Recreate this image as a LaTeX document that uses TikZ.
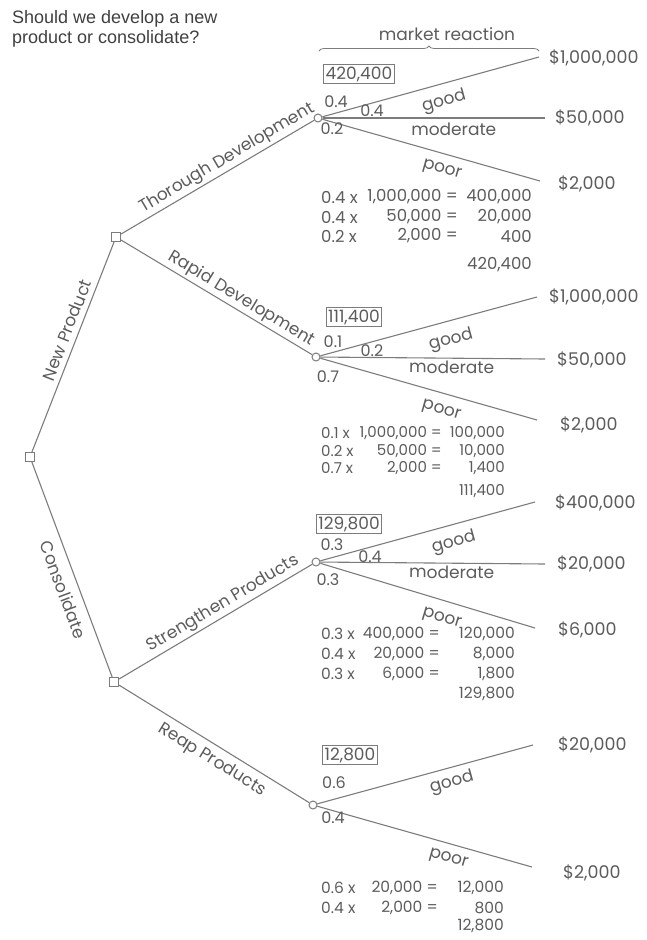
\documentclass[tikz,border=0pt]{standalone}
\usepackage{fontspec}
\setmainfont{Poppins}
\newfontfamily\headfont{Liberation Sans}
\usetikzlibrary{decorations.pathreplacing}
\definecolor{ink}{HTML}{5C5C5C}
\definecolor{wire}{HTML}{7C7C7C}

\begin{document}
\begin{tikzpicture}[x=1pt,y=1pt,
  every node/.style={text=ink, inner sep=1pt},
  wire/.style={draw=wire, line width=1.1pt},
  decision/.style={draw=wire, line width=1pt, fill=white, rectangle, minimum size=9pt, inner sep=0pt},
  chance/.style={draw=wire, line width=1pt, fill=white, circle, minimum size=8pt, inner sep=0pt},
  lbl/.style={font=\fontsize{17}{19}\selectfont},
  prob/.style={font=\fontsize{16}{18}\selectfont},
  calcA/.style={font=\fontsize{16.5}{18}\selectfont},
  calcB/.style={font=\fontsize{15}{17}\selectfont},
  calcC/.style={font=\fontsize{15.5}{17}\selectfont},
  valbox/.style={draw=wire, line width=0.8pt, inner xsep=2pt, inner ysep=2pt, font=\fontsize{17}{19}\selectfont},
  pay/.style={anchor=west, font=\fontsize{17.5}{19}\selectfont},
  head/.style={anchor=west, text=black!75, font=\headfont\fontsize{18}{20}\selectfont},
]
\useasboundingbox (0,0) rectangle (646,-940);

% heading
\node[head] (h1) at (11,-19) {Should we develop a new};
\node[head] (h2) at (11,-39) {product or consolidate?};

% market reaction brace
\draw[wire, line width=0.8pt, decorate, decoration={brace, amplitude=5pt}] (319,-51) -- (539,-51);
\node[lbl] (mr) at (447,-34) {market reaction};

% decision and chance nodes
\node[decision] (root) at (30,-457) {};
\node[decision] (np)   at (116,-237) {};
\node[decision] (cs)   at (114,-682) {};
\node[chance] (thc) at (318,-118) {};
\node[chance] (rdc) at (316,-357) {};
\node[chance] (stc) at (316,-562) {};
\node[chance] (rpc) at (313,-805) {};

% outcome line ends
\coordinate (thg) at (539,-57);  \coordinate (thm) at (545,-118); \coordinate (thp) at (540,-181);
\coordinate (rdg) at (537,-297); \coordinate (rdm) at (545,-359); \coordinate (rdp) at (537,-420);
\coordinate (stg) at (535,-502); \coordinate (stm) at (545,-564); \coordinate (stp) at (535,-628);
\coordinate (rpg) at (533,-745); \coordinate (rpp) at (532,-867);

% decision branches
\draw[wire] (root) -- node[sloped, above=4pt, pos=0.56, lbl] {New Product} (np);
\draw[wire] (root) -- node[sloped, below=7pt, pos=0.57, lbl] {Consolidate} (cs);
\draw[wire] (np) -- node[sloped, above=1pt, pos=0.58, lbl] {Thorough Development} (thc);
\draw[wire] (np) -- node[sloped, above=1pt, pos=0.6, lbl] {Rapid Development} (rdc);
\draw[wire] (cs) -- node[sloped, above=1pt, pos=0.57, lbl] {Strengthen Products} (stc);
\draw[wire] (cs) -- node[sloped, below=5pt, pos=0.53, lbl] {Reap Products} (rpc);

% market outcomes: thorough development
\draw[wire] (thc) -- node[sloped, below=8pt, pos=0.54, lbl] {good} (thg);
\draw[wire] (thc) -- node[sloped, below=3pt, pos=0.59, lbl] {moderate} (thm);
\draw[wire] (thc) -- node[sloped, below=8pt, pos=0.57, lbl] {poor} (thp);
% rapid development
\draw[wire] (rdc) -- node[sloped, below=9pt, pos=0.58, lbl] {good} (rdg);
\draw[wire] (rdc) -- node[sloped, below=1pt, pos=0.585, lbl] {moderate} (rdm);
\draw[wire] (rdc) -- node[sloped, below=9pt, pos=0.58, lbl] {poor} (rdp);
% strengthen products
\draw[wire] (stc) -- node[sloped, below=8pt, pos=0.60, lbl] {good} (stg);
\draw[wire] (stc) -- node[sloped, below=1pt, pos=0.585, lbl] {moderate} (stm);
\draw[wire] (stc) -- node[sloped, below=10pt, pos=0.59, lbl] {poor} (stp);
% reap products
\draw[wire] (rpc) -- node[sloped, below=5pt, pos=0.605, lbl] {good} (rpg);
\draw[wire] (rpc) -- node[sloped, below=7pt, pos=0.63, lbl] {poor} (rpp);

% payoffs
\node[pay] (p1) at (548,-58) {\$1,000,000};
\node[pay] (p2) at (554,-118) {\$50,000};
\node[pay] (p3) at (557,-184) {\$2,000};
\node[pay] (p4) at (548,-297) {\$1,000,000};
\node[pay] (p5) at (556,-360) {\$50,000};
\node[pay] (p6) at (559,-425) {\$2,000};
\node[pay] (p7) at (554,-503) {\$400,000};
\node[pay] (p8) at (556,-564) {\$20,000};
\node[pay] (p9) at (557,-630) {\$6,000};
\node[pay] (p10) at (557,-745) {\$20,000};
\node[pay] (p11) at (562,-873) {\$2,000};

% expected values
\node[valbox] (ev1) at (359,-74) {420,400};
\node[valbox] (ev2) at (354,-317) {111,400};
\node[valbox] (ev3) at (349,-524) {129,800};
\node[valbox] (ev4) at (350,-755) {12,800};

% probabilities
\node[prob] (q1) at (336,-102) {0.4};
\node[prob] (q2) at (372,-111) {0.4};
\node[prob] (q3) at (332,-129) {0.2};
\node[prob] (q4) at (333,-342) {0.1};
\node[prob] (q5) at (372,-351) {0.2};
\node[prob] (q6) at (328,-377) {0.7};
\node[prob] (q7) at (332,-545) {0.3};
\node[prob] (q8) at (370,-557) {0.4};
\node[prob] (q9) at (328,-580) {0.3};
\node[prob] (q10) at (334,-783) {0.6};
\node[prob] (q11) at (333,-818) {0.4};

% calculations: thorough development
\node[calcA, anchor=west] (a1) at (320,-197) {0.4 x};
\node[calcA, anchor=east] (a1m) at (459,-197) {1,000,000 =};
\node[calcA, anchor=east] (a1r) at (533,-197) {400,000};
\node[calcA, anchor=west] (a2) at (320,-217) {0.4 x};
\node[calcA, anchor=east] (a2m) at (459,-217) {50,000 =};
\node[calcA, anchor=east] (a2r) at (533,-217) {20,000};
\node[calcA, anchor=west] (a3) at (320,-236) {0.2 x};
\node[calcA, anchor=east] (a3m) at (459,-236) {2,000 =};
\node[calcA, anchor=east] (a3r) at (533,-236) {400};
\node[calcA, anchor=east] (a4) at (533,-265) {420,400};

% calculations: rapid development
\node[calcB, anchor=west] (b1) at (320,-433) {0.1 x};
\node[calcB, anchor=east] (b1m) at (443,-433) {1,000,000 =};
\node[calcB, anchor=east] (b1r) at (506,-433) {100,000};
\node[calcB, anchor=west] (b2) at (320,-451) {0.2 x};
\node[calcB, anchor=east] (b2m) at (443,-451) {50,000 =};
\node[calcB, anchor=east] (b2r) at (506,-451) {10,000};
\node[calcB, anchor=west] (b3) at (320,-468) {0.7 x};
\node[calcB, anchor=east] (b3m) at (443,-468) {2,000 =};
\node[calcB, anchor=east] (b3r) at (506,-468) {1,400};
\node[calcB, anchor=east] (b4) at (506,-491) {111,400};

% calculations: strengthen products
\node[calcC, anchor=west] (c1) at (320,-634) {0.3 x};
\node[calcC, anchor=east] (c1m) at (441,-634) {400,000 =};
\node[calcC, anchor=east] (c1r) at (516,-634) {120,000};
\node[calcC, anchor=west] (c2) at (320,-654) {0.4 x};
\node[calcC, anchor=east] (c2m) at (441,-654) {20,000 =};
\node[calcC, anchor=east] (c2r) at (516,-654) {8,000};
\node[calcC, anchor=west] (c3) at (320,-674) {0.3 x};
\node[calcC, anchor=east] (c3m) at (441,-674) {6,000 =};
\node[calcC, anchor=east] (c3r) at (516,-674) {1,800};
\node[calcC, anchor=east] (c4) at (516,-694) {129,800};

% calculations: reap products
\node[calcC, anchor=west] (d1) at (320,-888) {0.6 x};
\node[calcC, anchor=east] (d1m) at (439,-888) {20,000 =};
\node[calcC, anchor=east] (d1r) at (505,-888) {12,000};
\node[calcC, anchor=west] (d2) at (320,-908) {0.4 x};
\node[calcC, anchor=east] (d2m) at (439,-908) {2,000 =};
\node[calcC, anchor=east] (d2r) at (505,-908) {800};
\node[calcC, anchor=east] (d3) at (505,-926) {12,800};
\end{tikzpicture}
\end{document}
